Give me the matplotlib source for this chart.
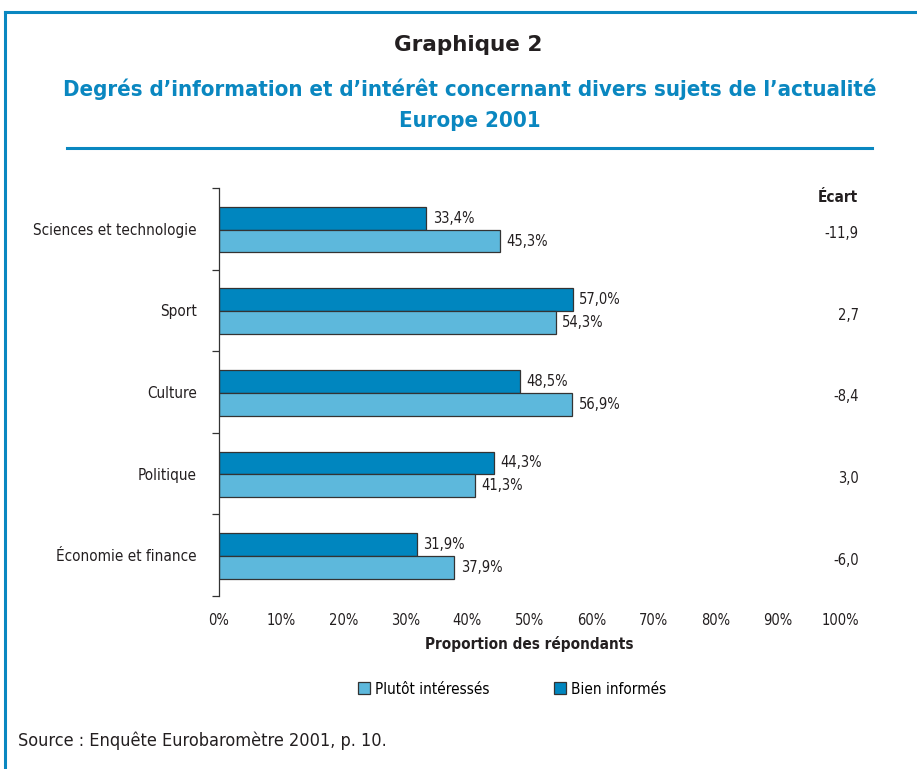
import matplotlib
matplotlib.use("Agg")
import matplotlib.pyplot as plt
from matplotlib.patches import Rectangle
from matplotlib.lines import Line2D
import numpy as np

plt.rcParams['font.family'] = ['DejaVu Sans']
plt.rcParams['font.stretch'] = 'condensed'

categories = ["Sciences et technologie", "Sport", "Culture", "Politique", "Économie et finance"]
bien_informes = [33.4, 57.0, 48.5, 44.3, 31.9]
plutot_interesses = [45.3, 54.3, 56.9, 41.3, 37.9]
ecart = ["-11,9", "2,7", "-8,4", "3,0", "-6,0"]
xticks = [0, 10, 20, 30, 40, 50, 60, 70, 80, 90, 100]

dark = "#0086bf"
light = "#5db8dc"
frame_blue = "#0a87c0"
text_col = "#231f20"

fig = plt.figure(figsize=(9.17, 7.69), dpi=100)
W, H = 917, 769

# frame
fig.add_artist(Line2D([5 / W, 5 / W], [0, 1 - 12 / H], color=frame_blue, lw=2.2))
fig.add_artist(Line2D([5 / W, 1.0], [1 - 12 / H, 1 - 12 / H], color=frame_blue, lw=2.2))
fig.add_artist(Line2D([67 / W, 872 / W], [1 - 148 / H, 1 - 148 / H], color=frame_blue, lw=2.2))

fig.text(468 / W, 1 - 45 / H, "Graphique 2", ha="center", va="center",
         fontsize=15.5, fontweight="bold", color=text_col, fontstretch="normal")
fig.text(470 / W, 1 - 89 / H, "Degrés d’information et d’intérêt concernant divers sujets de l’actualité",
         ha="center", va="center", fontsize=15.9, fontweight="bold", color=frame_blue)
fig.text(470 / W, 1 - 121 / H, "Europe 2001", ha="center", va="center", fontsize=15.9,
         fontweight="bold", color=frame_blue)

ax = fig.add_axes([219 / W, 1 - 596 / H, 621 / W, 408 / H])
y = np.arange(len(categories))
h = 0.28
ax.barh(y - 0.13, bien_informes, height=h, color=dark, edgecolor="#333333", linewidth=0.9)
ax.barh(y + 0.15, plutot_interesses, height=h, color=light, edgecolor="#333333", linewidth=0.9)

for i in range(len(categories)):
    ax.text(bien_informes[i] + 1.0, y[i] - 0.13, f"{bien_informes[i]:.1f}%".replace(".", ","),
            va="center", ha="left", fontsize=10.5, color=text_col)
    ax.text(plutot_interesses[i] + 1.0, y[i] + 0.15, f"{plutot_interesses[i]:.1f}%".replace(".", ","),
            va="center", ha="left", fontsize=10.5, color=text_col)

ax.set_xlim(0, 100)
ax.set_ylim(4.5, -0.5)
ax.set_xticks(xticks)
ax.set_xticklabels([f"{t}%" for t in xticks], fontsize=10.5, color=text_col)
ax.tick_params(axis="x", length=0, pad=12)
ax.set_yticks(y)
ax.set_yticklabels(categories, fontsize=11, color=text_col)
ax.tick_params(axis="y", which="major", length=0, pad=16)
ax.set_yticks(np.arange(-0.5, 5, 1), minor=True)
ax.tick_params(axis="y", which="minor", length=5, width=0.9, color="#333333")
for s in ["top", "right", "bottom"]:
    ax.spines[s].set_visible(False)
ax.spines["left"].set_linewidth(0.9)
ax.spines["left"].set_color("#333333")
ax.set_xlabel("Proportion des répondants", fontsize=11, fontweight="bold", color=text_col, labelpad=6)

# écart column
ax.text(858 / W, 1 - 197 / H, "Écart", transform=fig.transFigure, ha="right", va="center",
        fontsize=11, fontweight="bold", color=text_col)
for i, e in enumerate(ecart):
    ax.text(1.03, y[i] + 0.06, e, transform=ax.get_yaxis_transform(), ha="right", va="center",
            fontsize=10.5, color=text_col)

# legend
handles = [Rectangle((0, 0), 1, 1, facecolor=light, edgecolor="#333333", linewidth=0.9),
           Rectangle((0, 0), 1, 1, facecolor=dark, edgecolor="#333333", linewidth=0.9)]
fig.legend(handles, ["Plutôt intéressés", "Bien informés"], loc="center",
           bbox_to_anchor=(512 / W, 1 - 689 / H), ncol=2, frameon=False, fontsize=11,
           handlelength=0.8, handleheight=0.8, handletextpad=0.3, columnspacing=4.2)

fig.text(18 / W, 1 - 741 / H, "Source : Enquête Eurobaromètre 2001, p. 10.", ha="left", va="center",
         fontsize=13, color=text_col)

fig.savefig("out.png", dpi=100)
